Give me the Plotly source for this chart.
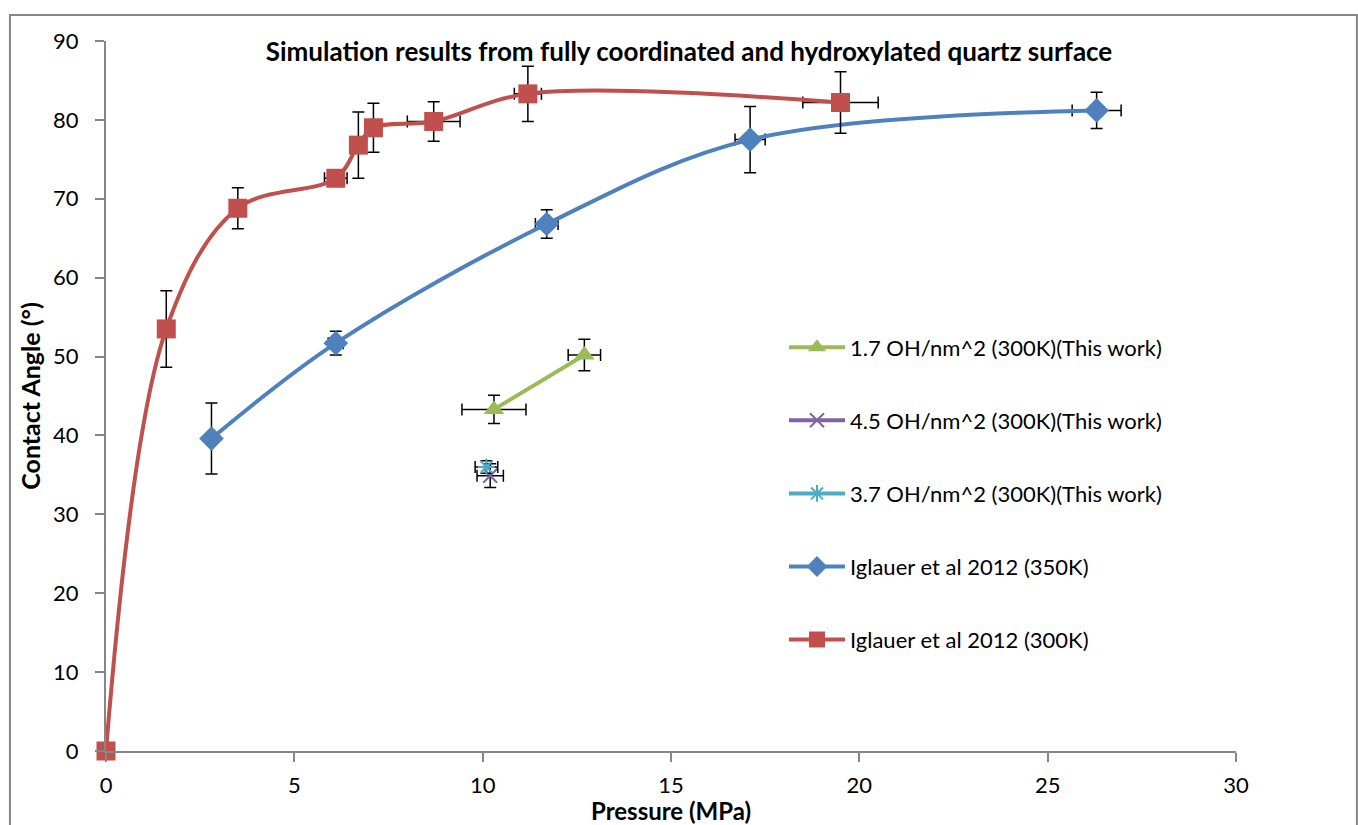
import plotly.graph_objects as go

# ---- data ----
red_x = [0, 1.6, 3.5, 6.1, 6.7, 7.1, 8.7, 11.2, 19.5]
red_y = [0, 53.5, 68.8, 72.6, 76.8, 79.0, 79.8, 83.3, 82.2]
red_ey = [0, 4.85, 2.6, 0.5, 4.2, 3.1, 2.5, 3.5, 3.9]
red_ex = [0, 0, 0, 0.3, 0, 0, 0.7, 0.36, 1.0]

blue_x = [2.8, 6.1, 11.7, 17.1, 26.3]
blue_y = [39.6, 51.7, 66.8, 77.5, 81.2]
blue_ey = [4.5, 1.5, 1.8, 4.2, 2.3]
blue_ex = [0, 0.2, 0.3, 0.4, 0.65]

green_x = [10.3, 12.7]
green_y = [43.3, 50.2]
green_ey = [1.8, 2.0]
green_ex = [0.85, 0.43]

purple_x = [10.2]
purple_y = [34.9]
purple_ey = [1.5]
purple_ex = [0.35]

cyan_x = [10.1]
cyan_y = [36.0]
cyan_ey = [0.8]
cyan_ex = [0.3]

names = ["1.7 OH/nm^2 (300K)(This work)", "4.5 OH/nm^2 (300K)(This work)",
         "3.7 OH/nm^2 (300K)(This work)", "Iglauer et al 2012 (350K)",
         "Iglauer et al 2012 (300K)"]

x_ticks = [0, 5, 10, 15, 20, 25, 30]
y_ticks = [0, 10, 20, 30, 40, 50, 60, 70, 80, 90]

FONT = "Lato"
err_style = dict(color="black", thickness=1.5, width=6)

fig = go.Figure()

def add(x, y, ex, ey, name, color, symbol, msize, shape="linear", mline=None, grp="g"):
    marker = dict(color=color, symbol=symbol, size=msize)
    if mline:
        marker["line"] = dict(color=color, width=mline)
    fig.add_trace(go.Scatter(
        x=x, y=y, name=name, mode="lines+markers",
        line=dict(color=color, width=4, shape=shape),
        marker=marker, legendgroup=grp, cliponaxis=False,
        error_y=dict(type="data", array=ey, visible=True, **err_style),
        error_x=dict(type="data", array=ex, visible=True, **err_style),
    ))

add(green_x, green_y, green_ex, green_ey, names[0], "#9BBB59", "triangle-up", 18, grp="a")
add(purple_x, purple_y, purple_ex, purple_ey, names[1], "#8064A2", "x-thin-open", 14, mline=2, grp="b")
add(cyan_x, cyan_y, cyan_ex, cyan_ey, names[2], "#4BACC6", "asterisk-open", 14, mline=2, grp="c")
add(blue_x, blue_y, blue_ex, blue_ey, names[3], "#4F81BD", "diamond", 19, shape="spline", grp="d")
add(red_x, red_y, red_ex, red_ey, names[4], "#C0504D", "square", 19, shape="spline", grp="e")

axis_common = dict(showgrid=False, zeroline=False, showline=True, linecolor="#868686",
                   linewidth=2, ticks="outside", tickcolor="#868686", ticklen=9,
                   tickwidth=2, automargin=False,
                   tickfont=dict(family=FONT, size=22, color="black"))

fig.update_xaxes(range=[0, 30], tickvals=x_ticks, ticklabelstandoff=5, **axis_common)
fig.update_yaxes(range=[0, 90], tickvals=y_ticks, ticklabelstandoff=12, **axis_common,
                 title=dict(text="<b>Contact Angle (°)</b>", font=dict(family=FONT, size=25, color="black"),
                            standoff=5))

fig.update_layout(
    width=1358, height=825,
    margin=dict(l=106, r=122, t=41, b=74),
    paper_bgcolor="white", plot_bgcolor="white",
    font=dict(family=FONT, color="black"),
    title=dict(text="<b>Simulation results from fully coordinated and hydroxylated quartz surface</b>",
               x=689 / 1358, xanchor="center", y=1 - 52 / 825, yanchor="middle",
               font=dict(family=FONT, size=26, color="black")),
    legend=dict(x=0.6, y=0.598, xanchor="left", yanchor="top",
                font=dict(family=FONT, size=22, color="black"),
                tracegroupgap=41.5, traceorder="grouped", itemwidth=56,
                bgcolor="rgba(0,0,0,0)"),
    showlegend=True,
    annotations=[dict(text="<b>Pressure (MPa)</b>", xref="paper", yref="paper",
                      x=(671 - 106) / 1130, y=(751 - 811) / 710,
                      xanchor="center", yanchor="middle", showarrow=False,
                      font=dict(family=FONT, size=24, color="black"))],
    shapes=[dict(type="rect", xref="paper", yref="paper",
                 x0=-0.085, x1=1.107, y0=-0.12, y1=1.0366,
                 line=dict(color="#868686", width=2), layer="below")],
)

fig.write_html("out.html")
